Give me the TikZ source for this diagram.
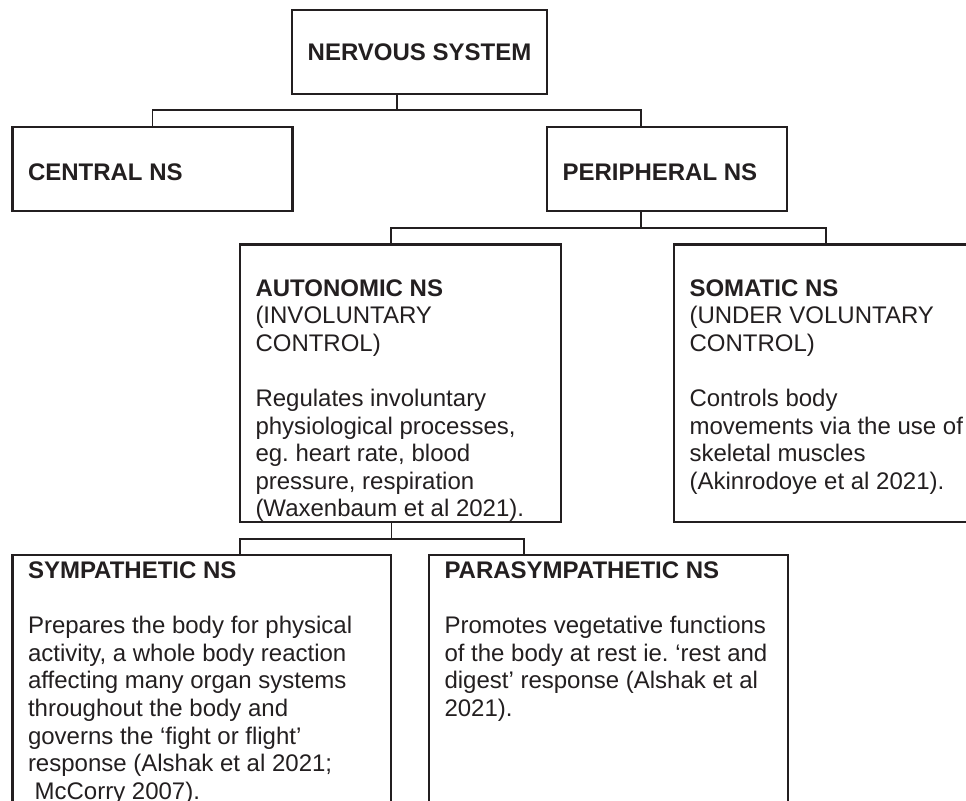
\documentclass[tikz,border=0pt]{standalone}
\usepackage{fontspec}
\setmainfont{Liberation Sans}
\usepackage{tikz}
\usetikzlibrary{calc}

\definecolor{inkc}{HTML}{231F20}
\newdimen\unitpx
\unitpx=0.75pt
\frenchspacing
% box text: width, height, first baseline, content
\newcommand{\boxtext}[4]{\parbox[c][#2\unitpx][t]{#1\unitpx}{\raggedright\leftskip=15.5\unitpx\rule{0pt}{#3\unitpx}#4}}

\tikzset{
  nsbox/.style={draw=inkc, line width=1.65pt, inner sep=0pt, outer sep=0pt, anchor=north west,
    text=inkc, font=\fontsize{18pt}{20.7pt}\selectfont},
  link/.style={draw=inkc, line width=1.3pt}
}

\begin{document}
\begin{tikzpicture}[x=0.75pt,y=-0.75pt]
\useasboundingbox (0,0) rectangle (966,800);
\clip (0,0) rectangle (966,800);

% boxes
\node[nsbox, minimum width=255\unitpx, minimum height=84\unitpx] (ns) at (292,10) {\textbf{NERVOUS SYSTEM}};
\node[nsbox] (cns) at (12.5,127) {\boxtext{280}{84}{53.3}{\textbf{CENTRAL NS}}};
\node[nsbox] (pns) at (547,127) {\boxtext{240}{84}{53.3}{\textbf{PERIPHERAL NS}}};

\node[nsbox] (ans) at (240,244.5) {\boxtext{321}{277.5}{51.5}{\textbf{AUTONOMIC NS}\\
(INVOLUNTARY\\
CONTROL)\\[27.6\unitpx]
Regulates involuntary\\
physiological processes,\\
eg. heart rate, blood\\
pressure, respiration\\
(Waxenbaum et al 2021).}};
\node[nsbox] (son) at (674,244.5) {\boxtext{316}{277.5}{51.5}{\textbf{SOMATIC NS}\\
(UNDER VOLUNTARY\\
CONTROL)\\[27.6\unitpx]
Controls body\\
movements via the use of\\
skeletal muscles\\
(Akinrodoye et al 2021).}};

\node[nsbox] (sym) at (12.5,555) {\boxtext{378.5}{270}{23.5}{\textbf{SYMPATHETIC NS}\\[27.6\unitpx]
Prepares the body for physical\\
activity, a whole body reaction\\
affecting many organ systems\\
throughout the body and\\
governs the ‘fight or flight’\\
response (Alshak et al 2021;\\
\mbox{\ }McCorry 2007).}};
\node[nsbox] (par) at (429,555) {\boxtext{359}{270}{23.5}{\textbf{PARASYMPATHETIC NS}\\[27.6\unitpx]
Promotes vegetative functions\\
of the body at rest ie. ‘rest and\\
digest’ response (Alshak et al\\
2021).}};

% links
\coordinate (j1) at ($(ns.south)+(-22.5,16)$);
\draw[link] ($(ns.south)+(-22.5,0)$) -- (j1);
\draw[link] (cns.north) |- (j1) -| ($(pns.north)+(-26,0)$);

\coordinate (j2) at ($(pns.south)+(-26,17)$);
\draw[link] ($(pns.south)+(-26,0)$) -- (j2);
\draw[link] ($(ans.north)+(-9.5,0)$) |- (j2) -| ($(son.north west)+(152,0)$);

\coordinate (j3) at ($(ans.south)+(-9,17)$);
\draw[link] ($(ans.south)+(-9,0)$) -- (j3);
\draw[link] ($(sym.north west)+(227.5,0)$) |- (j3) -| ($(par.north west)+(95,0)$);

\end{tikzpicture}
\end{document}
